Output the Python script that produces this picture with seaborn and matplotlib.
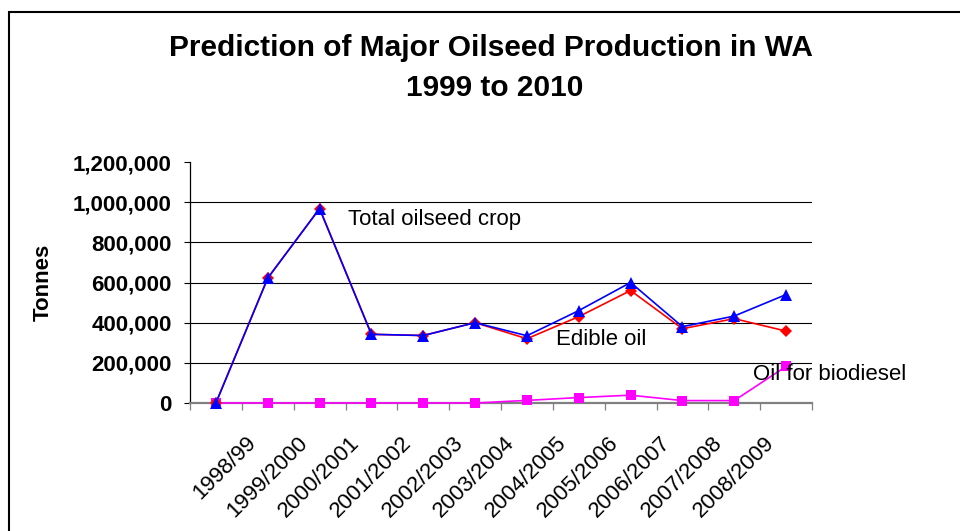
import matplotlib
matplotlib.use('Agg')
import matplotlib.pyplot as plt
import matplotlib.patches as patches
from matplotlib.transforms import ScaledTranslation
import numpy as np
import pandas as pd
import seaborn as sns

# Data (tonnes)
seasons = ['1998/99', '1999/2000', '2000/2001', '2001/2002', '2002/2003', '2003/2004',
           '2004/2005', '2005/2006', '2006/2007', '2007/2008', '2008/2009', '']
edible_oil = [0, 622000, 968000, 342000, 336000, 400000, 320000, 430000, 560000, 370000, 420000, 358000]
biodiesel = [0, 0, 0, 0, 0, 0, 13000, 27000, 39000, 12000, 12000, 182000]
total_crop = [0, 622000, 968000, 342000, 336000, 400000, 335000, 460000, 600000, 380000, 433000, 540000]

df = pd.DataFrame({'pos': np.arange(len(seasons)), 'season': seasons,
                   'edible': edible_oil, 'biodiesel': biodiesel, 'total': total_crop})

sns.set_theme(style='white')
plt.rcParams['font.family'] = ['Liberation Sans', 'DejaVu Sans']
plt.rcParams['text.color'] = 'black'
plt.rcParams['axes.labelcolor'] = 'black'
plt.rcParams['xtick.color'] = 'black'
plt.rcParams['ytick.color'] = 'black'

fig = plt.figure(figsize=(9.6, 5.31), dpi=100)
ax = fig.add_axes([190 / 960, 1 - 403 / 531, 622 / 960, 241 / 531])

# Draw lines (biodiesel at the back, total on top); markers at zero drawn unclipped
sns.lineplot(data=df, x='pos', y='biodiesel', ax=ax, color='#FF00FF', lw=1.2,
             marker='s', markersize=7.5, markeredgewidth=0, zorder=3, clip_on=False)
sns.lineplot(data=df, x='pos', y='edible', ax=ax, color='#FF0000', lw=1.2,
             marker='D', markersize=6, markeredgewidth=0, zorder=4, clip_on=False)
sns.lineplot(data=df, x='pos', y='total', ax=ax, color='#0000FF', lw=1.2,
             marker='^', markersize=9, markeredgewidth=0, zorder=5, clip_on=False)

# Axes
ax.set_xlim(-0.5, len(seasons) - 0.5)
ax.set_ylim(0, 1200000)
ax.set_yticks(np.arange(0, 1200001, 200000))
ax.set_yticklabels(['{:,.0f}'.format(v) for v in ax.get_yticks()], fontsize=16, fontweight='bold')
ax.tick_params(axis='y', direction='out', length=4.3, width=0.8, color='black', pad=9, left=True)

ax.set_xticks(df['pos'])
ax.set_xticklabels(df['season'], rotation=45, ha='right', va='top', fontsize=16)
ax.tick_params(axis='x', which='major', length=0, pad=21)
ax.set_xticks(np.arange(-0.5, len(seasons), 1), minor=True)
ax.tick_params(axis='x', which='minor', direction='out', length=5, width=0.9,
               color='#808080', bottom=True)
shift = ScaledTranslation(0.44, 0, fig.dpi_scale_trans)
for lbl in ax.get_xticklabels():
    lbl.set_transform(lbl.get_transform() + shift)

ax.set_xlabel('')
ax.set_ylabel('Tonnes', fontsize=16, fontweight='bold')
ax.yaxis.set_label_coords((43 - 190) / 622, 0.5)
ax.yaxis.label.set_verticalalignment('center')

ax.yaxis.grid(True, color='black', lw=0.8)
ax.get_ygridlines()[-1].set_visible(False)
ax.set_axisbelow(True)

for side in ['top', 'right']:
    ax.spines[side].set_visible(False)
ax.spines['left'].set_color('black')
ax.spines['left'].set_linewidth(0.9)
ax.spines['bottom'].set_color('#808080')
ax.spines['bottom'].set_linewidth(1.6)

# Series labels
ax.text(2.54, 916000, 'Total oilseed crop', fontsize=16, va='center', ha='left')
ax.text(6.57, 314000, 'Edible oil', fontsize=16, va='center', ha='left')
ax.text(10.37, 144000, 'Oil for biodiesel', fontsize=16, va='center', ha='left')

# Title
fig.text(491 / 960, 1 - 48 / 531, 'Prediction of Major Oilseed Production in WA',
         fontsize=21.5, fontweight='bold', ha='center', va='center')
fig.text(495 / 960, 1 - 88 / 531, '1999 to 2010',
         fontsize=21.5, fontweight='bold', ha='center', va='center')

# Chart border
fig.patches.append(patches.Rectangle((9 / 960, -0.1), 1.2, 1 - 12 / 531 + 0.1,
                                     transform=fig.transFigure, fill=False,
                                     ec='black', lw=1.5))

fig.savefig('out.png', dpi=100)
